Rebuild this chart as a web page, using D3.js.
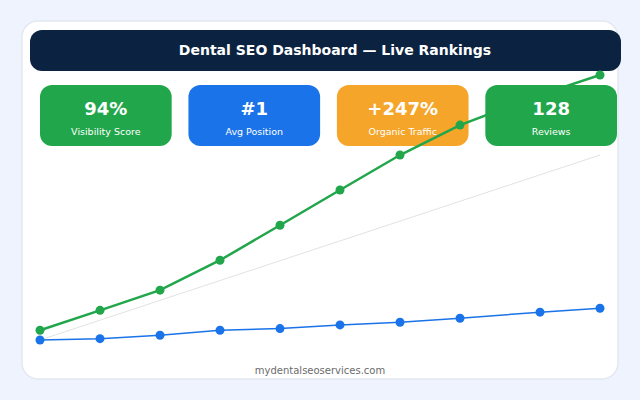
<!DOCTYPE html>
<html>
<head>
<meta charset="utf-8">
<script src="https://cdn.jsdelivr.net/npm/d3@7"></script>
<style>
  body { margin: 0; background: #eef3fd; }
  svg { display: block; font-family: "DejaVu Sans", sans-serif; }
</style>
</head>
<body>
<svg id="chart" width="640" height="400"></svg>
<script>
// days since campaign start
const days = [0, 30, 60, 90, 120, 150, 180, 210, 250, 280];
// organic traffic index (green) and ranking gain index (blue)
const traffic = [3.7, 11.2, 18.8, 30.1, 43.3, 56.6, 69.8, 81.1, 92.5, 100];
const rankings = [0, 0.5, 1.8, 3.7, 4.3, 5.7, 6.7, 8.2, 10.5, 12];
// faint baseline trend
const trendDays = [0, 280];
const trendValues = [0, 69.8];

const cardValues = ["94%", "#1", "+247%", "128"];
const cardLabels = ["Visibility Score", "Avg Position", "Organic Traffic", "Reviews"];
const cardColors = ["#22a64b", "#1a73e8", "#f5a62a", "#22a64b"];

const svg = d3.select("#chart");

// white panel
svg.append("rect")
  .attr("x", 22).attr("y", 21)
  .attr("width", 596).attr("height", 358)
  .attr("rx", 16)
  .attr("fill", "#ffffff")
  .attr("stroke", "#e3e8f0")
  .attr("stroke-width", 1.5);

// header bar
svg.append("rect")
  .attr("x", 30).attr("y", 30)
  .attr("width", 591).attr("height", 41)
  .attr("rx", 12)
  .attr("fill", "#0b2341");

svg.append("text")
  .attr("x", 335).attr("y", 55)
  .attr("text-anchor", "middle")
  .attr("fill", "#ffffff")
  .style("font-size", "14px")
  .style("font-weight", "bold")
  .text("Dental SEO Dashboard \u2014 Live Rankings");

// metric cards
const cardX = d3.scaleBand()
  .domain(d3.range(cardValues.length))
  .range([40, 617])
  .paddingInner(0.113);

const card = svg.selectAll("g.card")
  .data(cardValues)
  .enter()
  .append("g")
  .attr("class", "card")
  .attr("transform", function (d, i) { return "translate(" + cardX(i) + ",85)"; });

card.append("rect")
  .attr("width", cardX.bandwidth())
  .attr("height", 61)
  .attr("rx", 12)
  .attr("fill", function (d, i) { return cardColors[i]; });

card.append("text")
  .attr("x", cardX.bandwidth() / 2)
  .attr("y", 30)
  .attr("text-anchor", "middle")
  .attr("fill", "#ffffff")
  .style("font-size", "18px")
  .style("font-weight", "bold")
  .text(function (d) { return d; });

card.append("text")
  .attr("x", cardX.bandwidth() / 2)
  .attr("y", 50)
  .attr("text-anchor", "middle")
  .attr("fill", "#ffffff")
  .style("font-size", "9.5px")
  .text(function (d, i) { return cardLabels[i]; });

// scales
const x = d3.scaleLinear().domain([0, 280]).range([40, 600]);
const y = d3.scaleLinear().domain([0, 100]).range([340, 75]);

const line = d3.line()
  .x(function (d) { return x(d[0]); })
  .y(function (d) { return y(d[1]); });

svg.append("path")
  .datum(d3.zip(trendDays, trendValues))
  .attr("d", line)
  .attr("fill", "none")
  .attr("stroke", "#e2e2e2")
  .attr("stroke-width", 1);

svg.append("path")
  .datum(d3.zip(days, rankings))
  .attr("d", line)
  .attr("fill", "none")
  .attr("stroke", "#1a73e8")
  .attr("stroke-width", 1.5);

svg.selectAll("circle.rank")
  .data(d3.zip(days, rankings))
  .enter()
  .append("circle")
  .attr("class", "rank")
  .attr("cx", function (d) { return x(d[0]); })
  .attr("cy", function (d) { return y(d[1]); })
  .attr("r", 4.5)
  .attr("fill", "#1a73e8");

svg.append("path")
  .datum(d3.zip(days, traffic))
  .attr("d", line)
  .attr("fill", "none")
  .attr("stroke", "#22a64b")
  .attr("stroke-width", 2.5);

svg.selectAll("circle.traffic")
  .data(d3.zip(days, traffic))
  .enter()
  .append("circle")
  .attr("class", "traffic")
  .attr("cx", function (d) { return x(d[0]); })
  .attr("cy", function (d) { return y(d[1]); })
  .attr("r", 4.5)
  .attr("fill", "#22a64b");

// footer
svg.append("text")
  .attr("x", 320).attr("y", 374)
  .attr("text-anchor", "middle")
  .attr("fill", "#6b6b6b")
  .style("font-size", "10px")
  .text("mydentalseoservices.com");
</script>
</body>
</html>
